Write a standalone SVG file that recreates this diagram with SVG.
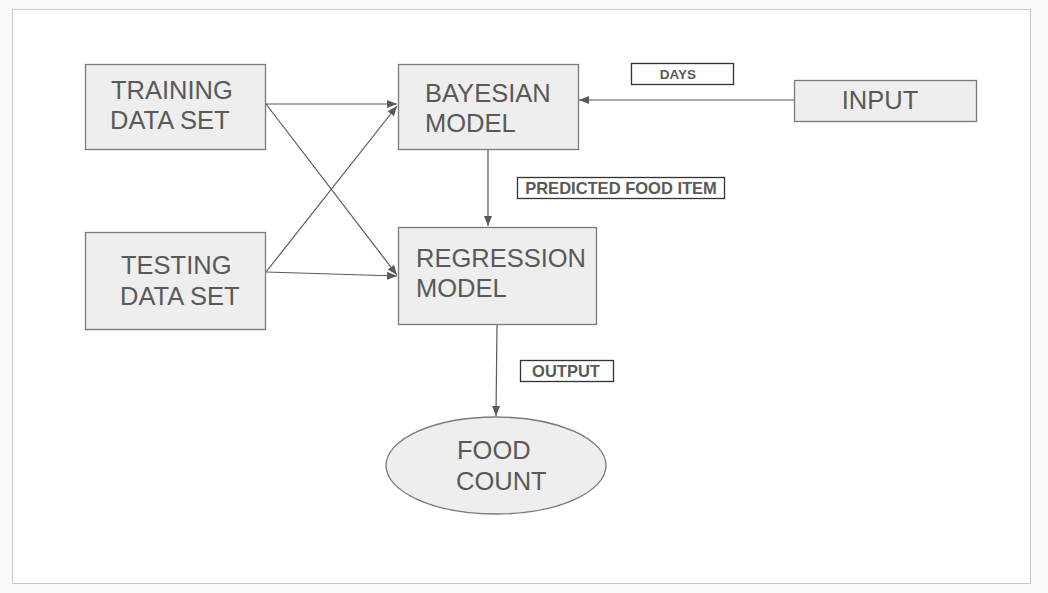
<svg xmlns="http://www.w3.org/2000/svg" width="1048" height="593" viewBox="0 0 1048 593">
<defs>
<style>
.box{fill:#eeeeee;stroke:#7a7a7a;stroke-width:1.3}
.lbl{fill:#ffffff;stroke:#333333;stroke-width:1.3}
.t{font-family:"Liberation Sans",Arial,sans-serif;font-size:25.5px;fill:#595959}
.s{font-family:"Liberation Sans",Arial,sans-serif;font-size:16.5px;font-weight:bold;fill:#595959}
.c{stroke:#595959;stroke-width:1.2;fill:none;marker-end:url(#ah)}
</style>
<marker id="ah" viewBox="0 0 10 10" refX="10" refY="5" markerWidth="10" markerHeight="10" markerUnits="userSpaceOnUse" orient="auto">
<path d="M0,1 L10,5 L0,9 Z" fill="#595959"/>
</marker>
</defs>
<rect x="0" y="0" width="1048" height="593" fill="#f8f9fb"/>
<rect x="12.5" y="9.5" width="1018" height="574" fill="#ffffff" stroke="#c8c8c8" stroke-width="1"/>
<g id="connectors">
<line class="c" x1="266" y1="104" x2="397" y2="104"/>
<line class="c" x1="266" y1="104" x2="397" y2="275"/>
<line class="c" x1="266" y1="272" x2="397" y2="106"/>
<line class="c" x1="266" y1="272" x2="397" y2="276"/>
<line class="c" x1="794" y1="100" x2="579" y2="100"/>
<line class="c" x1="488" y1="149" x2="488" y2="226"/>
<line class="c" x1="497" y1="324" x2="496" y2="416"/>
</g>
<g id="training">
<rect class="box" x="85.5" y="64.5" width="180" height="85"/>
<text class="t" x="111" y="99">TRAINING</text>
<text class="t" x="110" y="129">DATA SET</text>
</g>
<g id="bayesian">
<rect class="box" x="398.5" y="64.5" width="180" height="85"/>
<text class="t" x="425" y="102">BAYESIAN</text>
<text class="t" x="425" y="132">MODEL</text>
</g>
<g id="input">
<rect class="box" x="794.5" y="80.5" width="182" height="41"/>
<text class="t" x="880" y="109" text-anchor="middle">INPUT</text>
</g>
<g id="days">
<rect class="lbl" x="631.5" y="63.5" width="102" height="21"/>
<text class="s" x="678" y="79" text-anchor="middle" style="font-size:13.5px">DAYS</text>
</g>
<g id="testing">
<rect class="box" x="85.5" y="232.5" width="180" height="97"/>
<text class="t" x="121" y="274">TESTING</text>
<text class="t" x="120" y="305">DATA SET</text>
</g>
<g id="regression">
<rect class="box" x="398.5" y="227.5" width="198" height="97"/>
<text class="t" x="416" y="267">REGRESSION</text>
<text class="t" x="416" y="297">MODEL</text>
</g>
<g id="predicted">
<rect class="lbl" x="517.5" y="177.5" width="207" height="21"/>
<text class="s" x="621" y="194" text-anchor="middle">PREDICTED FOOD ITEM</text>
</g>
<g id="output">
<rect class="lbl" x="520.5" y="360.5" width="93" height="21"/>
<text class="s" x="566" y="377" text-anchor="middle">OUTPUT</text>
</g>
<g id="foodcount">
<ellipse class="box" cx="496" cy="465.5" rx="110" ry="48.5"/>
<text class="t" x="457" y="459">FOOD</text>
<text class="t" x="456" y="490">COUNT</text>
</g>
</svg>
